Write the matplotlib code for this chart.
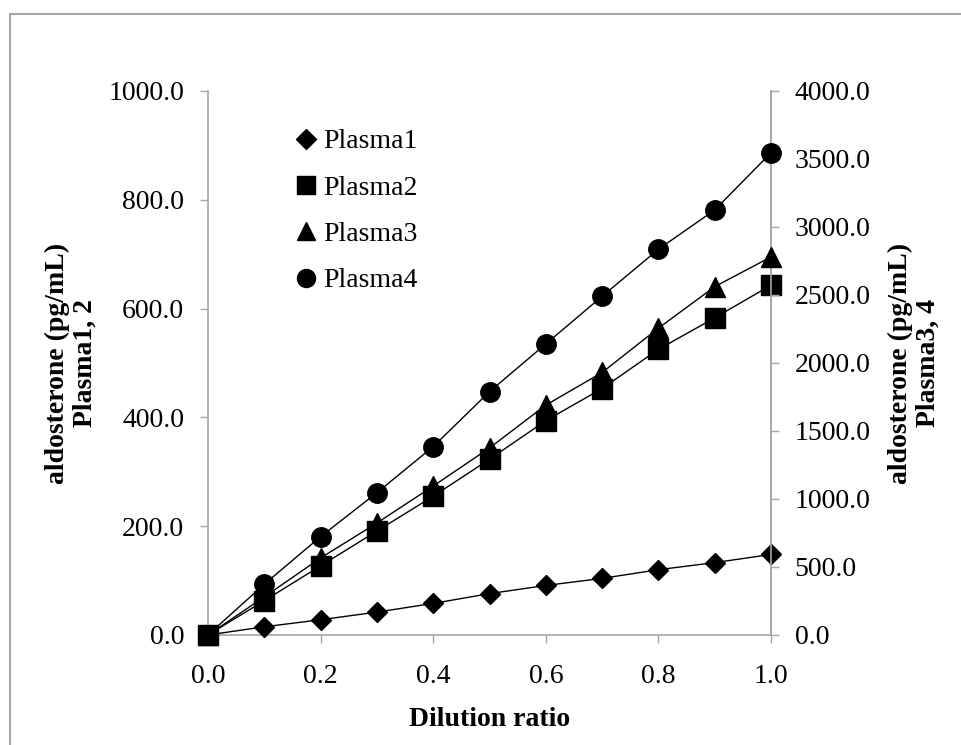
import matplotlib
matplotlib.use("Agg")
import matplotlib.pyplot as plt
import matplotlib.ticker as ticker
from matplotlib.lines import Line2D
from matplotlib.patches import Rectangle

# dilution series and measured aldosterone (pg/mL)
dilution = [0.0, 0.1, 0.2, 0.3, 0.4, 0.5, 0.6, 0.7, 0.8, 0.9, 1.0]
plasma1 = [0, 15, 28, 42, 58, 76, 91, 104, 120, 133, 148]
plasma2 = [0, 63, 127, 191, 255, 323, 394, 453, 525, 583, 643]
plasma3 = [0, 280, 566, 823, 1095, 1375, 1690, 1930, 2256, 2561, 2780]
plasma4 = [0, 373, 723, 1046, 1385, 1789, 2140, 2490, 2836, 3125, 3546]

plt.rcParams['font.family'] = ['Liberation Serif', 'DejaVu Serif']
FS = 20
GREY = '#A6A6A6'

fig = plt.figure(figsize=(9.62, 7.45), dpi=100)
ax = fig.add_axes([0.2162, 0.1477, 0.5853, 0.7302])
ax2 = ax.twinx()

# outer frame (only top and left edges fall inside the image)
fig.patches.append(Rectangle((10 / 962, -0.5), 2, 1.5 - 14 / 745, transform=fig.transFigure,
                             fill=False, edgecolor=GREY, linewidth=1.5, clip_on=False))

line_kw = dict(color='black', linewidth=1.0, clip_on=False, zorder=3)
ax.plot(dilution, plasma1, marker='D', markersize=10, **line_kw)
ax.plot(dilution, plasma2, marker='s', markersize=14, **line_kw)
ax2.plot(dilution, plasma3, marker='^', markersize=14, **line_kw)
ax2.plot(dilution, plasma4, marker='o', markersize=14, **line_kw)

ax.set_xlim(0, 1.0)
ax.set_ylim(0, 1000)
ax2.set_ylim(0, 4000)
ax.xaxis.set_major_locator(ticker.MultipleLocator(0.2))
ax.yaxis.set_major_locator(ticker.MultipleLocator(200))
ax2.yaxis.set_major_locator(ticker.MultipleLocator(500))
fmt = ticker.FormatStrFormatter('%.1f')
ax.xaxis.set_major_formatter(fmt)
ax.yaxis.set_major_formatter(fmt)
ax2.yaxis.set_major_formatter(fmt)

for a in (ax, ax2):
    a.spines['top'].set_visible(False)
    for side in ('left', 'right', 'bottom'):
        a.spines[side].set_color(GREY)
        a.spines[side].set_linewidth(1.2)
    a.tick_params(direction='out', length=6, width=1.0, color=GREY,
                  labelsize=FS, pad=11)
ax.tick_params(axis='x', pad=15)
ax2.spines['left'].set_visible(False)
ax2.spines['bottom'].set_visible(False)

ax.set_xlabel('Dilution ratio', fontsize=FS, fontweight='bold')
ax.xaxis.set_label_coords(0.5, -0.133)
ax.set_ylabel('aldosterone (pg/mL)\nPlasma1, 2', fontsize=FS, fontweight='bold',
              linespacing=1.15)
ax.yaxis.set_label_coords(-0.196, 0.5)
ax2.set_ylabel('aldosterone (pg/mL)\nPlasma3, 4', fontsize=FS, fontweight='bold',
               rotation=90, linespacing=1.15)
ax2.yaxis.set_label_coords(1.207, 0.5)

handles = [
    Line2D([], [], color='black', linestyle='none', marker='D', markersize=10),
    Line2D([], [], color='black', linestyle='none', marker='s', markersize=13),
    Line2D([], [], color='black', linestyle='none', marker='^', markersize=13),
    Line2D([], [], color='black', linestyle='none', marker='o', markersize=13),
]
ax2.legend(handles, ['Plasma1', 'Plasma2', 'Plasma3', 'Plasma4'], loc='upper left',
           bbox_to_anchor=(295 / 962, 1 - 129 / 745), bbox_transform=fig.transFigure,
           frameon=False, fontsize=FS, handlelength=0.8, handletextpad=0.2,
           labelspacing=0.75, borderaxespad=0, borderpad=0)

fig.savefig('out.png', dpi=100)
